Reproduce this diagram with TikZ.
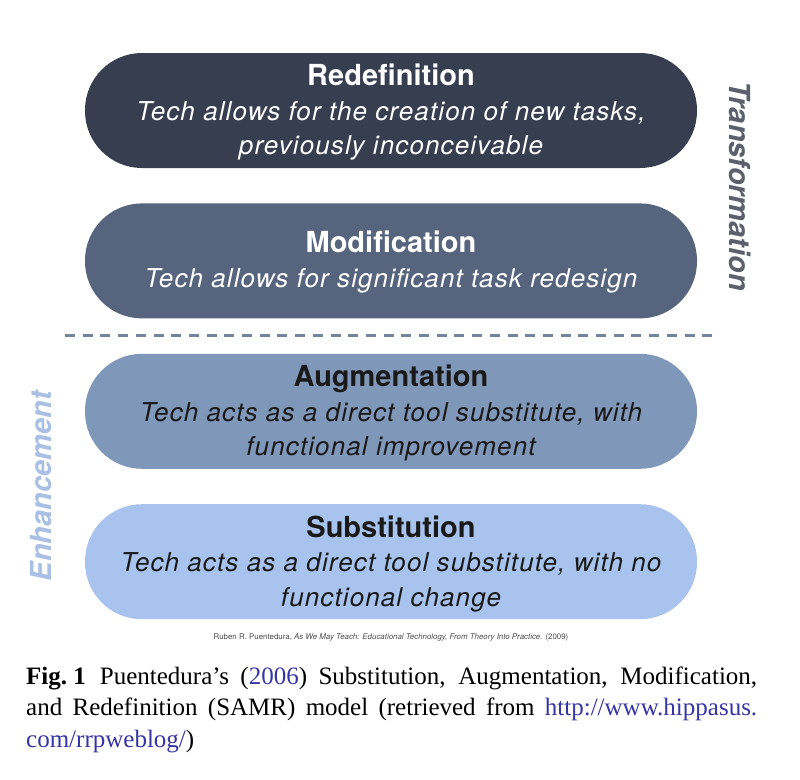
\documentclass[tikz,border=0pt]{standalone}
\usepackage{fontspec}
\setmainfont{Liberation Serif}
\setsansfont{TeX Gyre Heros}
\newfontfamily\bodyfont[LetterSpace=4.3]{TeX Gyre Heros}
\usetikzlibrary{positioning}
\definecolor{redefcol}{HTML}{363E4F}
\definecolor{modifcol}{HTML}{56647D}
\definecolor{augmcol}{HTML}{7F97B8}
\definecolor{substcol}{HTML}{A7C3EE}
\definecolor{dashcol}{HTML}{73849F}
\definecolor{transcol}{HTML}{5B606C}
\definecolor{enhcol}{HTML}{A9BFE3}
\definecolor{linkblue}{HTML}{3535A5}
\newcommand{\leveltitle}[1]{{\sffamily\bfseries\upshape\fontsize{29}{34}\selectfont #1}}

\begin{document}
\begin{tikzpicture}[x=1pt, y=-1pt,
				level/.style={rectangle, rounded corners=57pt, minimum width=612pt, minimum height=115pt, inner sep=0pt},
				leveltext/.style={inner sep=0pt, align=center, font=\bodyfont\itshape\fontsize{26}{34.5}\selectfont},
				sidelabel/.style={font=\sffamily\bfseries\itshape\fontsize{29}{31}\selectfont, inner sep=0pt},
				every text node part/.style={align=center}]
				\useasboundingbox (0,0) rectangle (800,779);
				
				\node[level, fill=redefcol](redef) at (391, 110.5) {};
				\node[level, fill=modifcol, below=35pt of redef](modif) {};
				\node[level, fill=augmcol, below=35pt of modif](augm) {};
				\node[level, fill=substcol, below=35pt of augm](subst) {};
				
				\node[leveltext, text=white](redef-text) at ([yshift=-2pt]redef.center) {\leveltitle{Redefinition}\\Tech allows for the creation of new tasks,\\previously inconceivable};
				\node[leveltext, text=white](modif-text) at ([yshift=-1pt]modif.center) {\leveltitle{Modification}\\Tech allows for significant task redesign};
				\node[leveltext, text=black!90](augm-text) at ([yshift=-2pt]augm.center) {\leveltitle{Augmentation}\\Tech acts as a direct tool substitute, with\\functional improvement};
				\node[leveltext, text=black!90](subst-text) at ([yshift=-2pt]subst.center) {\leveltitle{Substitution}\\Tech acts as a direct tool substitute, with no\\functional change};
				
				% divider between the two groups
				\coordinate (dashl) at (65, 335.5);
				\coordinate (dashr) at (716, 335.5);
				\draw[dashcol, line width=3pt, dash pattern=on 10pt off 7.7pt] (dashl) -- (dashr);
				
				\node[sidelabel, text=transcol, rotate=-90](trans) at (740, 186) {Transformation};
				\node[sidelabel, text=enhcol, rotate=90](enh) at (41, 486) {Enhancement};
				
				\node[font=\sffamily\fontsize{7.9}{9}\selectfont, text=black!70, inner sep=0pt](source) at (391, 637) {Ruben R. Puentedura, \textit{As We May Teach: Educational Technology, From Theory Into Practice.} (2009)};
				
				\node[anchor=north west, inner sep=0pt](caption) at (26, 666.6) {\parbox{731pt}{\fontsize{25}{31.5}\selectfont\mbox{\textbf{Fig.\ 1}}\hspace{14pt}Puentedura’s (\textcolor{linkblue}{2006}) Substitution, Augmentation, Modification,\linebreak and Redefinition (SAMR) model (retrieved from \textcolor{linkblue}{http://www.hippasus.}\linebreak\textcolor{linkblue}{com/rrpweblog/})}};
			\end{tikzpicture}
\end{document}
